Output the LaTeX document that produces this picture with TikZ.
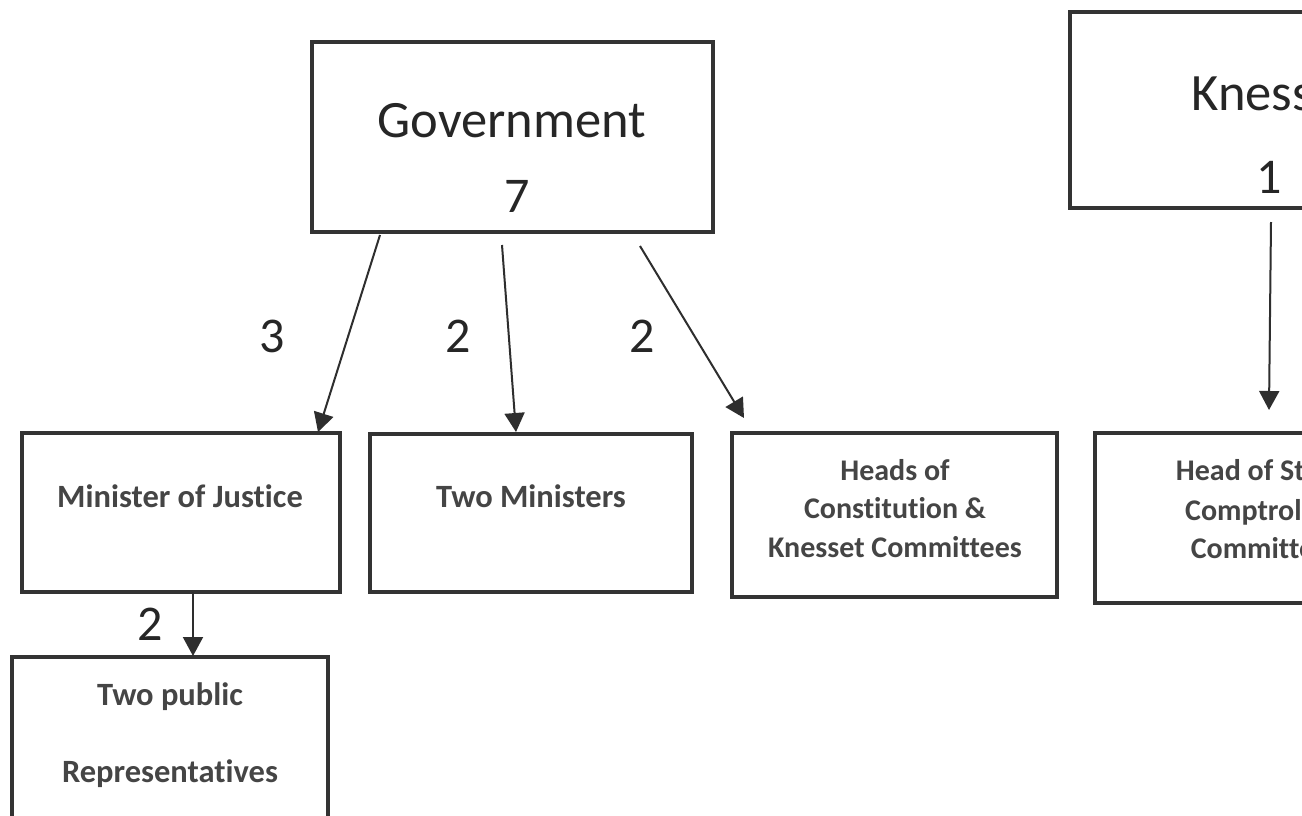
\documentclass[tikz,border=0pt]{standalone}
\usepackage{fontspec}
\setmainfont{Carlito}[Ligatures={NoCommon}]
\usetikzlibrary{arrows.meta}
\definecolor{frame}{HTML}{333333}
\definecolor{wire}{HTML}{2E2E2E}
\definecolor{bigink}{HTML}{262626}
\definecolor{smallink}{HTML}{454545}
\tikzset{
  box/.style={draw=frame, line width=3.5pt, rectangle, inner sep=0pt, outer sep=0pt},
  wirearrow/.style={draw=wire, line width=2pt, -{Triangle[width=20pt,length=19pt]}},
  bigtext/.style={anchor=base, inner sep=0pt, text=bigink, font=\fontsize{52.5}{60}\selectfont},
  numtext/.style={anchor=base, inner sep=0pt, text=bigink, font=\fontsize{50}{60}\selectfont},
  smalltext/.style={anchor=base, inner sep=0pt, text=smallink, font=\bfseries\fontsize{32.5}{38}\selectfont},
  smallertext/.style={smalltext, font=\bfseries\fontsize{30}{36}\selectfont},
}
\begin{document}
\begin{tikzpicture}[x=1pt,y=-1pt]
\useasboundingbox (0,0) rectangle (1302,815);
\clip (0,0) rectangle (1302,815);
\fill[white] (0,0) rectangle (1302,815);

% top level bodies
\node[box, minimum width=401pt, minimum height=190pt] (gov) at (512.5,137) {};
\node[bigtext] (govname) at (512,137) {Government};
\node[numtext] (govnum) at (517,212) {7};

\node[box, minimum width=400pt, minimum height=196pt] (kne) at (1270,110) {};
\node[bigtext] (knename) at (1274,110) {Knesset};
\node[numtext] (knenum) at (1269,193) {1};

% second level
\node[box, minimum width=318pt, minimum height=159pt] (mj) at (181,512.5) {};
\node[smalltext] (mjname) at (180,507) {Minister of Justice};

\node[box, minimum width=322pt, minimum height=158pt] (tm) at (531,513) {};
\node[smalltext] (tmname) at (531,507) {Two Ministers};

\node[box, minimum width=325pt, minimum height=164pt] (hc) at (894.5,515) {};
\node[smallertext] (hc1) at (895,480) {Heads of};
\node[smallertext] (hc2) at (895,518) {Constitution \&};
\node[smallertext] (hc3) at (895,557) {Knesset Committees};

\node[box, minimum width=330pt, minimum height=170pt] (sc) at (1260,518) {};
\node[smallertext] (sc1) at (1260,480) {Head of State};
\node[smallertext] (sc2) at (1260,520) {Comptroller};
\node[smallertext] (sc3) at (1260,558) {Committee};

% third level
\node[box, minimum width=316pt, minimum height=180pt] (pr) at (170,747) {};
\node[smalltext] (pr1) at (170,705) {Two public};
\node[smalltext] (pr2) at (170,782) {Representatives};

% connector ends
\coordinate (g1) at (380,235);
\coordinate (g2) at (502,245);
\coordinate (g3) at (640,246);
\coordinate (k1) at (1271,222);
\coordinate (m1) at (193,592);
\coordinate (mjin) at (318,432);
\coordinate (tmin) at (516,432);
\coordinate (hcin) at (744,418);
\coordinate (scin) at (1269,410);
\coordinate (prin) at (193,656);

\draw[wirearrow] (g1) -- (mjin);
\draw[wirearrow] (g2) -- (tmin);
\draw[wirearrow] (g3) -- (hcin);
\draw[wirearrow] (k1) -- (scin);
\draw[wirearrow] (m1) -- (prin);

% seat counts along the connectors
\node[numtext] (c3) at (272,352) {3};
\node[numtext] (c2a) at (458,352) {2};
\node[numtext] (c2b) at (642,352) {2};
\node[numtext] (c2c) at (150,640) {2};
\end{tikzpicture}
\end{document}
